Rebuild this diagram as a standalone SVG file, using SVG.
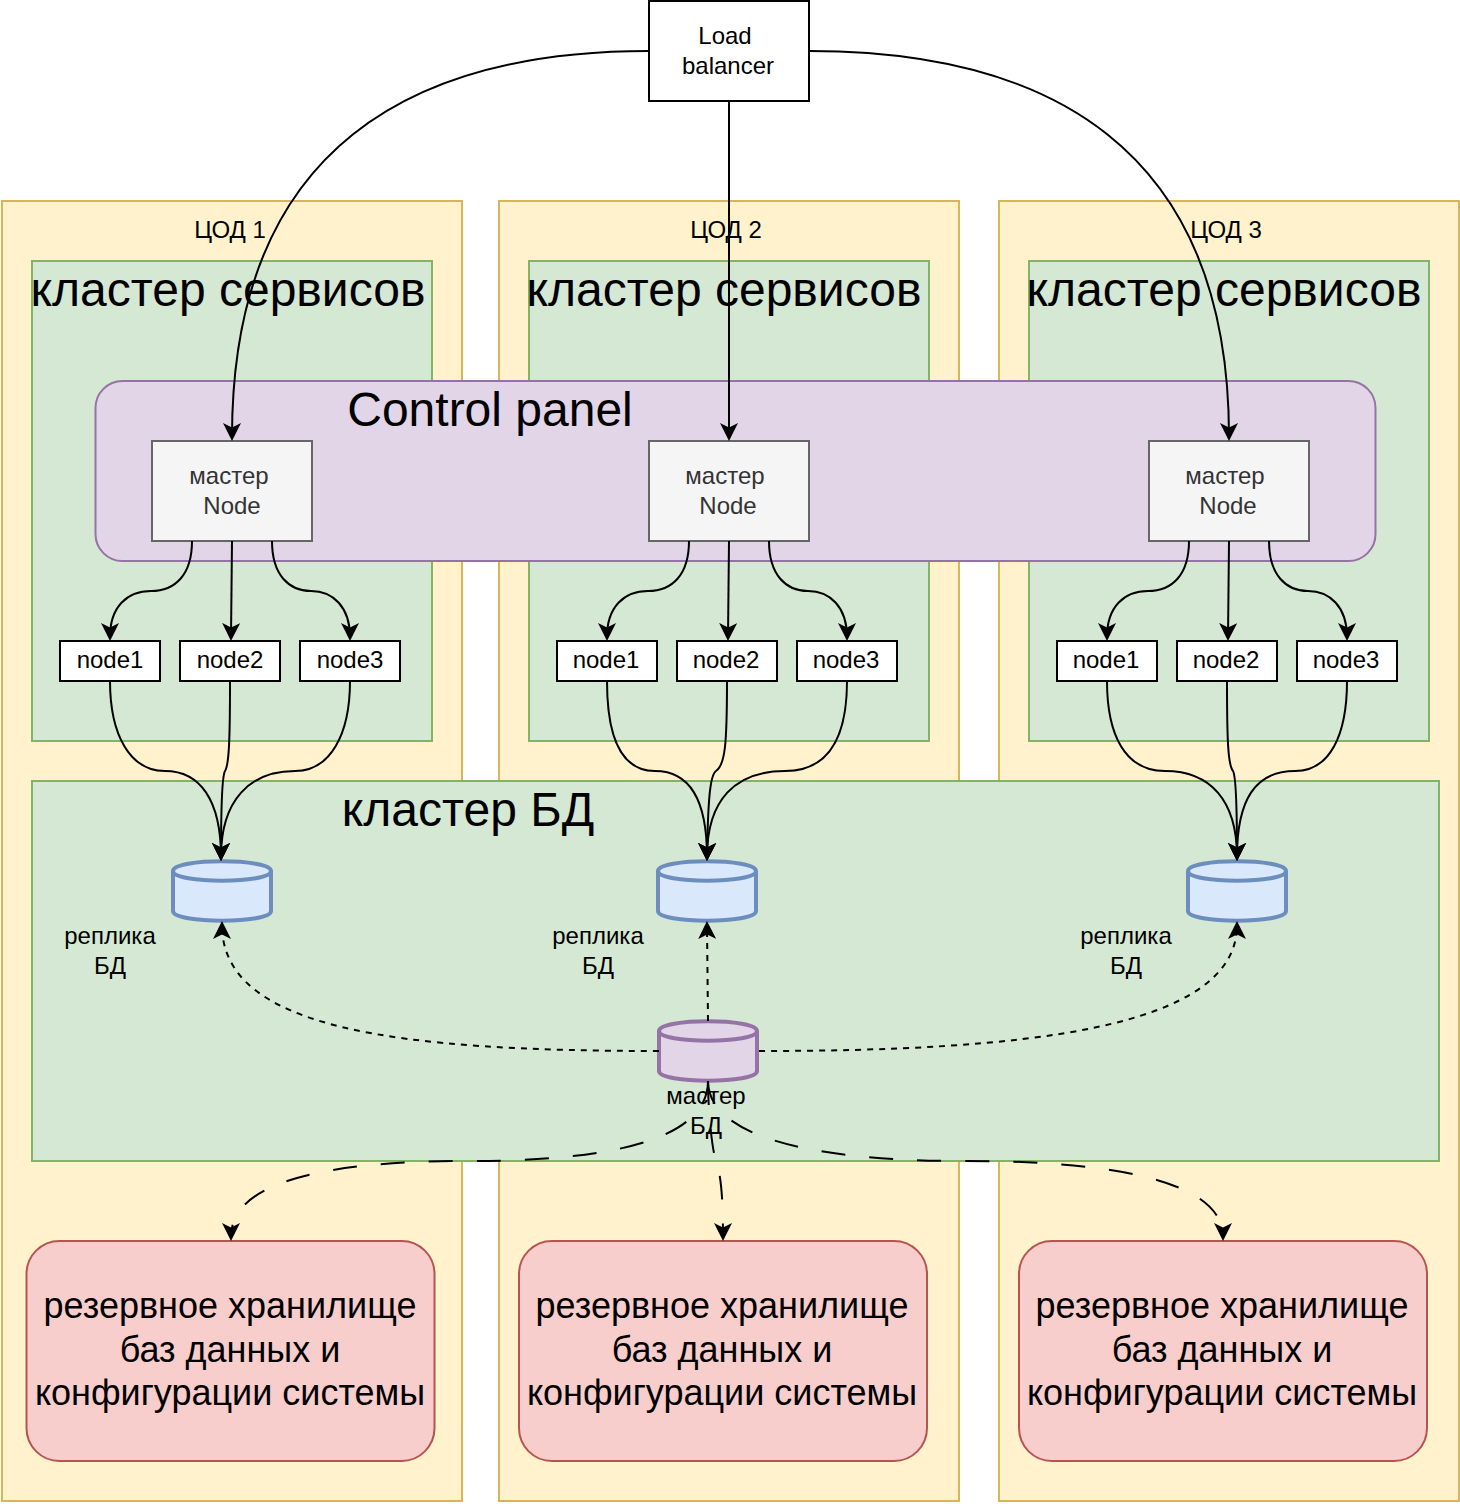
<svg xmlns="http://www.w3.org/2000/svg" width="1460" height="1504" viewBox="0 0 1460 1504">
<style>
text{font-family:"Liberation Sans",Arial,sans-serif;text-anchor:middle;fill:#000}
.t24{font-size:24px}.t36{font-size:36px}.t48{font-size:48px}
.dc{fill:#fff2cc;stroke:#d6b656;stroke-width:2}
.gr{fill:#d5e8d4;stroke:#82b366;stroke-width:2}
.cp{fill:#e1d5e7;stroke:#9673a6;stroke-width:2}
.ms{fill:#f5f5f5;stroke:#666;stroke-width:2}
.ms-t{fill:#333}
.wh{fill:#fff;stroke:#000;stroke-width:2}
.bk{fill:#f8cecc;stroke:#b85450;stroke-width:2}
.rp{fill:#dae8fc;stroke:#6c8ebf;stroke-width:4}
.mb{fill:#e1d5e7;stroke:#9673a6;stroke-width:4}
.e{fill:none;stroke:#000;stroke-width:2;marker-end:url(#arr)}
.d1{stroke-dasharray:6 6}.d2{stroke-dasharray:24 24}
</style>
<defs>
<marker id="arr" markerUnits="userSpaceOnUse" markerWidth="18" markerHeight="18" viewBox="0 0 18 18" refX="14" refY="9" orient="auto"><path d="M18 9L0 0L4.5 9L0 18Z" fill="#000"/></marker>
<path id="cyl" d="M0 10C0 -3 98 -3 98 10V50C98 63 0 63 0 50ZM98 10C98 23 0 23 0 10"/>
</defs>

<g id="dc1"><rect class="dc" x="2" y="201" width="460" height="1300"/><text class="t24" x="230" y="238">ЦОД 1</text></g>
<g id="dc2"><rect class="dc" x="499" y="201" width="460" height="1300"/><text class="t24" x="726" y="238">ЦОД 2</text></g>
<g id="dc3"><rect class="dc" x="999" y="201" width="460" height="1300"/><text class="t24" x="1226" y="238">ЦОД 3</text></g>

<g id="svc1"><rect class="gr" x="32" y="261" width="400" height="480"/><text class="t48" x="228" y="306">кластер сервисов</text></g>
<g id="svc2"><rect class="gr" x="529" y="261" width="400" height="480"/><text class="t48" x="724" y="306">кластер сервисов</text></g>
<g id="svc3"><rect class="gr" x="1029" y="261" width="400" height="480"/><text class="t48" x="1224" y="306">кластер сервисов</text></g>

<g id="dbcluster"><rect class="gr" x="32" y="781" width="1407" height="380"/><text class="t48" x="468" y="826">кластер БД</text></g>

<g id="controlpanel"><rect class="cp" x="95.5" y="381" width="1280" height="180" rx="27"/><text class="t48" x="490" y="426">Control panel</text></g>

<g id="lb"><rect class="wh" x="649" y="1" width="160" height="100"/><text class="t24" x="725" y="44">Load</text><text class="t24" x="728" y="74">balancer</text></g>

<g id="master1"><rect class="ms" x="152" y="441" width="160" height="100"/><text class="t24 ms-t" x="229" y="484">мастер</text><text class="t24 ms-t" x="232" y="514">Node</text></g>
<g id="master2"><rect class="ms" x="649" y="441" width="160" height="100"/><text class="t24 ms-t" x="725" y="484">мастер</text><text class="t24 ms-t" x="728" y="514">Node</text></g>
<g id="master3"><rect class="ms" x="1149" y="441" width="160" height="100"/><text class="t24 ms-t" x="1225" y="484">мастер</text><text class="t24 ms-t" x="1228" y="514">Node</text></g>

<g id="n11"><rect class="wh" x="60" y="641" width="100" height="40"/><text class="t24" x="110" y="668">node1</text></g>
<g id="n12"><rect class="wh" x="180" y="641" width="100" height="40"/><text class="t24" x="230" y="668">node2</text></g>
<g id="n13"><rect class="wh" x="300" y="641" width="100" height="40"/><text class="t24" x="350" y="668">node3</text></g>
<g id="n21"><rect class="wh" x="557" y="641" width="100" height="40"/><text class="t24" x="606" y="668">node1</text></g>
<g id="n22"><rect class="wh" x="677" y="641" width="100" height="40"/><text class="t24" x="726" y="668">node2</text></g>
<g id="n23"><rect class="wh" x="797" y="641" width="100" height="40"/><text class="t24" x="846" y="668">node3</text></g>
<g id="n31"><rect class="wh" x="1057" y="641" width="100" height="40"/><text class="t24" x="1106" y="668">node1</text></g>
<g id="n32"><rect class="wh" x="1177" y="641" width="100" height="40"/><text class="t24" x="1226" y="668">node2</text></g>
<g id="n33"><rect class="wh" x="1297" y="641" width="100" height="40"/><text class="t24" x="1346" y="668">node3</text></g>

<g id="rep1"><use href="#cyl" class="rp" x="173" y="861"/><text class="t24" x="110" y="944">реплика</text><text class="t24" x="110" y="974">БД</text></g>
<g id="rep2"><use href="#cyl" class="rp" x="658" y="861"/><text class="t24" x="598" y="944">реплика</text><text class="t24" x="598" y="974">БД</text></g>
<g id="rep3"><use href="#cyl" class="rp" x="1188" y="861"/><text class="t24" x="1126" y="944">реплика</text><text class="t24" x="1126" y="974">БД</text></g>
<g id="masterdb"><use href="#cyl" class="mb" x="659" y="1021"/><text class="t24" x="706" y="1104">мастер</text><text class="t24" x="706" y="1134">БД</text></g>

<g id="bk1"><rect class="bk" x="26.5" y="1241" width="408" height="220" rx="33"/><text class="t36" x="230" y="1318">резервное хранилище</text><text class="t36" x="230" y="1362">баз данных и</text><text class="t36" x="230" y="1405">конфигурации системы</text></g>
<g id="bk2"><rect class="bk" x="519" y="1241" width="408" height="220" rx="33"/><text class="t36" x="722" y="1318">резервное хранилище</text><text class="t36" x="722" y="1362">баз данных и</text><text class="t36" x="722" y="1405">конфигурации системы</text></g>
<g id="bk3"><rect class="bk" x="1019" y="1241" width="408" height="220" rx="33"/><text class="t36" x="1222" y="1318">резервное хранилище</text><text class="t36" x="1222" y="1362">баз данных и</text><text class="t36" x="1222" y="1405">конфигурации системы</text></g>

<g id="connectors">
<path class="e" d="M649 51C415 51 232 145 232 437"/>
<path class="e" d="M729 101V437"/>
<path class="e" d="M809 51C1045 51 1229 145 1229 437"/>

<path class="e" d="M192 541C192 575 175 591 151 591C127 591 110 607 110 637"/>
<path class="e" d="M232 541L231 637"/>
<path class="e" d="M272 541C272 575 289 591 311 591C333 591 350 607 350 637"/>
<path class="e" d="M689 541C689 575 672 591 648 591C624 591 607 607 607 637"/>
<path class="e" d="M729 541L728 637"/>
<path class="e" d="M769 541C769 575 786 591 808 591C830 591 847 607 847 637"/>
<path class="e" d="M1189 541C1189 575 1172 591 1148 591C1124 591 1107 607 1107 637"/>
<path class="e" d="M1229 541L1228 637"/>
<path class="e" d="M1269 541C1269 575 1286 591 1308 591C1330 591 1347 607 1347 637"/>

<path class="e" d="M110 681C110 735 130 771 165 771C200 771 221 800 221 857"/>
<path class="e" d="M230 681C230 740 229 765 225 771C222 776 221 810 221 857"/>
<path class="e" d="M350 681C350 735 330 771 295 771C250 771 221 800 221 857"/>
<path class="e" d="M607 681C607 735 620 771 655 771C690 771 707 800 707 857"/>
<path class="e" d="M727 681C727 745 725 765 716 771C710 775 708 800 707 857"/>
<path class="e" d="M847 681C847 735 830 771 785 771C735 771 707 800 707 857"/>
<path class="e" d="M1107 681C1107 735 1125 771 1165 771C1210 771 1237 800 1237 857"/>
<path class="e" d="M1227 681C1227 740 1228 765 1233 771C1236 776 1237 810 1237 857"/>
<path class="e" d="M1347 681C1347 735 1330 771 1295 771C1255 771 1237 800 1237 857"/>

<path class="e d1" d="M659 1051C400 1051 222 1030 222 925"/>
<path class="e d1" d="M708 1021L707 925"/>
<path class="e d1" d="M759 1051C1020 1051 1237 1030 1237 925"/>

<path class="e d2" d="M708 1081C708 1130 640 1161 470 1161C330 1161 231 1180 231 1237"/>
<path class="e d2" d="M708 1081C708 1110 712 1150 716 1161C720 1172 723 1190 723 1237"/>
<path class="e d2" d="M708 1081C708 1130 790 1161 965 1161C1110 1161 1223 1180 1223 1237"/>
</g>
</svg>
